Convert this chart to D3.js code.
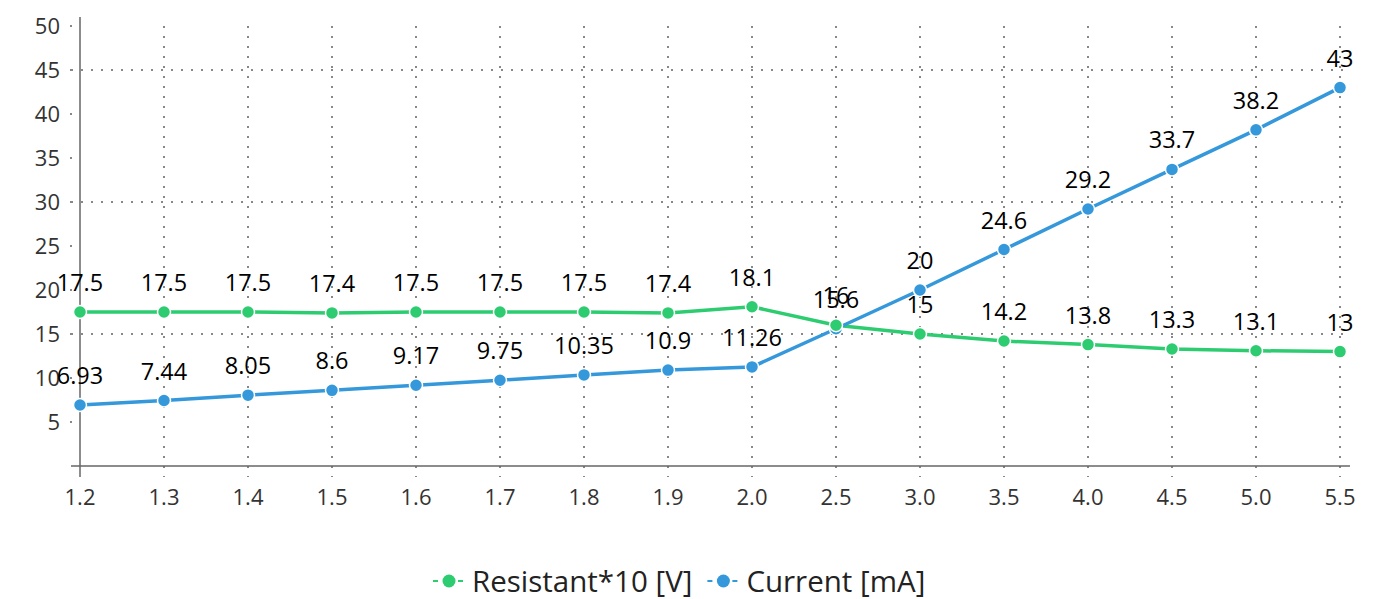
<!DOCTYPE html>
<html>
<head>
<meta charset="utf-8">
<script src="https://cdnjs.cloudflare.com/ajax/libs/d3/7.8.5/d3.min.js"></script>
<style>
  body { margin: 0; background: #fff; }
  svg { font-family: "Open Sans", sans-serif; }
</style>
</head>
<body>
<div id="chart"></div>
<script>
// categories on the x axis
const categories = ["1.2", "1.3", "1.4", "1.5", "1.6", "1.7", "1.8", "1.9", "2.0", "2.5", "3.0", "3.5", "4.0", "4.5", "5.0", "5.5"];

// series values
const resistantValues = [17.5, 17.5, 17.5, 17.4, 17.5, 17.5, 17.5, 17.4, 18.1, 16, 15, 14.2, 13.8, 13.3, 13.1, 13];
const currentValues = [6.93, 7.44, 8.05, 8.6, 9.17, 9.75, 10.35, 10.9, 11.26, 15.6, 20, 24.6, 29.2, 33.7, 38.2, 43];

// y ticks and grid lines
const yTicks = [5, 10, 15, 20, 25, 30, 35, 40, 45, 50];
const yGrid = [15, 30, 45];

const series = [
  { name: "Resistant*10 [V]", values: resistantValues, color: "#2ecc71" },
  { name: "Current [mA]", values: currentValues, color: "#3498db" }
];

const width = 1393;
const height = 599;

const svg = d3.select("#chart")
  .append("svg")
  .attr("width", width)
  .attr("height", height);

// scales
const x = d3.scalePoint()
  .domain(categories)
  .range([80, 1340]);

const y = d3.scaleLinear()
  .domain([0, 50])
  .range([466, 26]);

const gridColor = "#888";

// vertical grid lines
svg.append("g")
  .selectAll("line")
  .data(categories.slice(1))
  .enter()
  .append("line")
  .attr("x1", d => x(d))
  .attr("x2", d => x(d))
  .attr("y1", 26)
  .attr("y2", 477)
  .attr("stroke", gridColor)
  .attr("stroke-width", 2)
  .attr("stroke-dasharray", "2,8");

// horizontal grid lines
svg.append("g")
  .selectAll("line")
  .data(yGrid)
  .enter()
  .append("line")
  .attr("x1", 71)
  .attr("x2", 1350)
  .attr("y1", d => y(d))
  .attr("y2", d => y(d))
  .attr("stroke", gridColor)
  .attr("stroke-width", 2)
  .attr("stroke-dasharray", "2,8");

// y axis
const yAxis = svg.append("g");
yAxis.append("line")
  .attr("x1", 80).attr("x2", 80)
  .attr("y1", 17).attr("y2", 477)
  .attr("stroke", "#666")
  .attr("stroke-width", 1.5);

yAxis.selectAll(".ytick")
  .data(yTicks)
  .enter()
  .append("line")
  .attr("class", "ytick")
  .attr("x1", 70).attr("x2", 72)
  .attr("y1", d => y(d)).attr("y2", d => y(d))
  .attr("stroke", gridColor)
  .attr("stroke-width", 2);

yAxis.selectAll("text")
  .data(yTicks)
  .enter()
  .append("text")
  .attr("x", 60)
  .attr("y", d => y(d))
  .attr("dy", "0.36em")
  .attr("text-anchor", "end")
  .attr("fill", "#333")
  .style("font-size", "22px")
  .text(d => d);

// x axis
const xAxis = svg.append("g");
xAxis.append("line")
  .attr("x1", 71).attr("x2", 1350)
  .attr("y1", y(0)).attr("y2", y(0))
  .attr("stroke", "#666")
  .attr("stroke-width", 1.5);

xAxis.selectAll("text")
  .data(categories)
  .enter()
  .append("text")
  .attr("x", d => x(d))
  .attr("y", 505)
  .attr("text-anchor", "middle")
  .attr("fill", "#333")
  .style("font-size", "22px")
  .text(d => d);

// lines
const line = d3.line()
  .x((d, i) => x(categories[i]))
  .y(d => y(d));

series.forEach(s => {
  svg.append("path")
    .datum(s.values)
    .attr("d", line)
    .attr("fill", "none")
    .attr("stroke", s.color)
    .attr("stroke-width", 3.5);
});

// points (green drawn last so it sits on top where they cross)
series.slice().reverse().forEach(s => {
  svg.append("g")
    .selectAll("circle")
    .data(s.values)
    .enter()
    .append("circle")
    .attr("cx", (d, i) => x(categories[i]))
    .attr("cy", d => y(d))
    .attr("r", 6.5)
    .attr("fill", s.color)
    .attr("stroke", "#fff")
    .attr("stroke-width", 1.5);
});

// data labels
series.forEach(s => {
  svg.append("g")
    .selectAll("text")
    .data(s.values)
    .enter()
    .append("text")
    .attr("x", (d, i) => x(categories[i]))
    .attr("y", d => y(d) - 21)
    .attr("text-anchor", "middle")
    .attr("fill", "#000")
    .style("font-size", "23.5px")
    .text(d => d);
});

// legend
const legend = svg.append("g");
let lx = 433;
const ly = 581;
series.forEach(s => {
  const item = legend.append("g").attr("transform", `translate(${lx},${ly})`);
  item.append("line")
    .attr("x1", 0).attr("x2", 30)
    .attr("y1", 0).attr("y2", 0)
    .attr("stroke", s.color)
    .attr("stroke-width", 2)
    .attr("stroke-dasharray", "5,20,5");
  item.append("circle")
    .attr("cx", 16).attr("cy", 0)
    .attr("r", 6.5)
    .attr("fill", s.color);
  const t = item.append("text")
    .attr("x", 39)
    .attr("y", 0)
    .attr("dy", "0.36em")
    .attr("fill", "#222")
    .style("font-size", "29.5px")
    .text(s.name);
  lx += 39 + t.node().getComputedTextLength() + 15;
});
</script>
</body>
</html>
